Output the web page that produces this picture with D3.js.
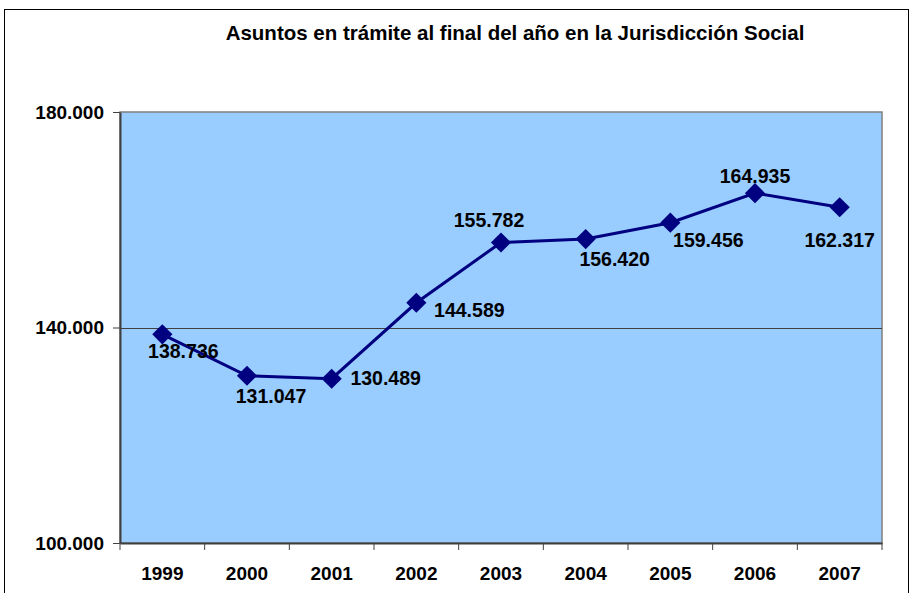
<!DOCTYPE html>
<html>
<head>
<meta charset="utf-8">
<script src="https://cdn.jsdelivr.net/npm/d3@7"></script>
<style>
  body { margin: 0; background: #fff; }
  text { font-family: "Liberation Sans", Arial, sans-serif; font-weight: bold; fill: #000; }
</style>
</head>
<body>
<svg id="chart"></svg>
<script>
// Data
const years = ["1999", "2000", "2001", "2002", "2003", "2004", "2005", "2006", "2007"];
const pending = [138736, 131047, 130489, 144589, 155782, 156420, 159456, 164935, 162317];
const yTicks = [100000, 140000, 180000];

// Hand-placed data labels (offset of label centre / baseline from the point)
const labelOffsets = [
  [21, 24], [24, 27], [54, 6], [53, 14], [-12, -15],
  [29, 27], [38, 24], [0, -10], [0, 40]
];

const W = 911, H = 593;
let margin = {top: 112, right: 29, bottom: 50, left: 120},
    width = W - margin.left - margin.right,
    height = H - margin.top - margin.bottom;

const svg = d3.select("#chart").attr("width", W).attr("height", H);

// outer chart frame
svg.append("rect")
  .attr("x", 4.5).attr("y", 9.5)
  .attr("width", 904).attr("height", 620)
  .attr("fill", "#fff").attr("stroke", "#000").attr("stroke-width", 1);

svg.append("text")
  .attr("x", 515).attr("y", 40)
  .attr("text-anchor", "middle")
  .style("font-size", "20.5px")
  .text("Asuntos en trámite al final del año en la Jurisdicción Social");

const g = svg.append("g").attr("transform", `translate(${margin.left},${margin.top})`);

let x = d3.scaleBand().domain(years).range([0, width]);
let y = d3.scaleLinear().domain([100000, 180000]).range([height, 0]);

// plot area
g.append("rect")
  .attr("width", width).attr("height", height)
  .attr("fill", "#99CCFF")
  .attr("stroke", "#808080").attr("stroke-width", 1.5);

// gridline
g.selectAll(".grid")
  .data(yTicks.filter(t => t > 100000 && t < 180000))
  .enter().append("line")
  .attr("x1", 0).attr("x2", width)
  .attr("y1", d => Math.round(y(d)) + 0.5).attr("y2", d => Math.round(y(d)) + 0.5)
  .attr("stroke", "#404040").attr("stroke-width", 1);

const fmt = v => d3.format(",")(v).replace(/,/g, ".");

// y axis
const yAxis = g.append("g")
  .call(d3.axisLeft(y).tickValues(yTicks).tickSize(7).tickSizeOuter(0).tickPadding(9).tickFormat(fmt));
yAxis.select(".domain").attr("stroke", "#404040").attr("stroke-width", 2);
yAxis.selectAll(".tick line").attr("stroke", "#404040");
yAxis.selectAll(".tick text").style("font-size", "19px").attr("font-family", null).attr("fill", "#000");

// x axis with ticks on category boundaries
const xAxis = g.append("g").attr("transform", `translate(0,${height})`)
  .call(d3.axisBottom(x).tickSize(0).tickPadding(24));
xAxis.select(".domain").attr("stroke", "#404040").attr("stroke-width", 2);
xAxis.selectAll(".tick text").style("font-size", "19px").attr("font-family", null).attr("fill", "#000");
xAxis.selectAll(".boundary")
  .data(years.map(d => x(d)).concat([width]))
  .enter().append("line")
  .attr("x1", d => d).attr("x2", d => d)
  .attr("y1", 0).attr("y2", 7)
  .attr("stroke", "#404040");

const cx = d => x(d) + x.bandwidth() / 2;

// series line
g.append("path")
  .datum(years.map((yr, i) => [cx(yr), y(pending[i])]))
  .attr("fill", "none")
  .attr("stroke", "#000080")
  .attr("stroke-width", 3)
  .attr("d", d3.line());

// diamond markers
g.selectAll(".dot")
  .data(years)
  .enter().append("path")
  .attr("transform", (d, i) => `translate(${cx(d)},${y(pending[i])})`)
  .attr("d", d3.symbol().type(d3.symbolDiamond2).size(260))
  .attr("fill", "#000080");

// data labels
g.selectAll(".lbl")
  .data(years)
  .enter().append("text")
  .attr("x", (d, i) => cx(d) + labelOffsets[i][0])
  .attr("y", (d, i) => y(pending[i]) + labelOffsets[i][1])
  .attr("text-anchor", "middle")
  .style("font-size", "19.5px")
  .text((d, i) => fmt(pending[i]));
</script>
</body>
</html>
